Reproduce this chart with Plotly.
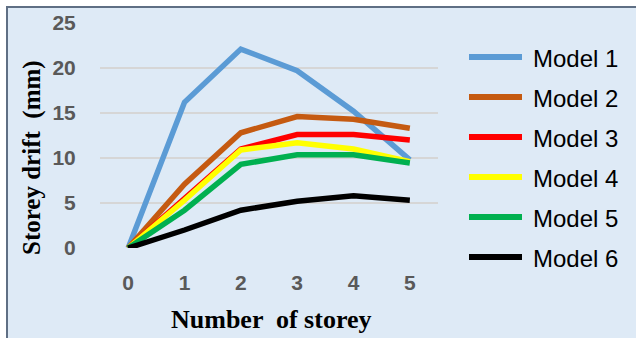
import plotly.graph_objects as go

# Storey drift per model
storeys = [0, 1, 2, 3, 4, 5]
model_1 = [0, 16.2, 22.1, 19.7, 15.2, 9.8]
model_2 = [0, 7.1, 12.8, 14.6, 14.3, 13.3]
model_3 = [0, 5.5, 11.0, 12.6, 12.6, 12.0]
model_4 = [0, 5.3, 10.9, 11.7, 11.0, 9.6]
model_5 = [0, 4.2, 9.3, 10.35, 10.35, 9.45]
model_6 = [0, 2.0, 4.2, 5.2, 5.8, 5.3]

names = ["Model 1", "Model 2", "Model 3", "Model 4", "Model 5", "Model 6"]
series = [model_1, model_2, model_3, model_4, model_5, model_6]
colors = ["#5B9BD5", "#C55A11", "#FF0000", "#FFFF00", "#00B050", "#000000"]
y_ticks = [0, 5, 10, 15, 20, 25]

W, H = 637, 338
L, R, T, B = 100, 199, 23, 90
PW, PH = W - L - R, H - T - B


def px_x(px):
    return (px - L) / PW


def px_y(py):
    return (H - B - py) / PH


fig = go.Figure()
for name, vals, col in zip(names, series, colors):
    fig.add_trace(go.Scatter(
        x=storeys, y=vals, mode="lines", name=name,
        line=dict(color=col, width=5.5), showlegend=False,
    ))

shapes = [
    # panel background and its frame
    dict(type="rect", xref="paper", yref="paper", layer="below",
         x0=px_x(7), x1=px_x(636), y0=px_y(345), y1=px_y(7),
         fillcolor="#DEEAF6", line=dict(width=0)),
    dict(type="line", xref="paper", yref="paper", layer="below",
         x0=px_x(7), x1=px_x(7), y0=px_y(345), y1=px_y(6),
         line=dict(color="#5F6F84", width=2)),
    dict(type="line", xref="paper", yref="paper", layer="below",
         x0=px_x(6), x1=px_x(636), y0=px_y(7), y1=px_y(7),
         line=dict(color="#5F6F84", width=2)),
]

annotations = [
    dict(text="<b>Storey drift  (mm)</b>", xref="paper", yref="paper",
         x=px_x(32), y=px_y(158), textangle=-90, showarrow=False,
         xanchor="center", yanchor="middle",
         font=dict(family="Liberation Serif", size=25, color="#000000")),
    dict(text="<b>Number  of storey</b>", xref="paper", yref="paper",
         x=px_x(271), y=px_y(319), showarrow=False,
         xanchor="center", yanchor="middle",
         font=dict(family="Liberation Serif", size=26, color="#000000")),
]

# legend: line sample + label per series
for i, (name, col) in enumerate(zip(names, colors)):
    cy = 57 + 40 * i
    shapes.append(dict(type="line", xref="paper", yref="paper",
                       x0=px_x(469), x1=px_x(522), y0=px_y(cy), y1=px_y(cy),
                       line=dict(color=col, width=6)))
    annotations.append(dict(text=name, xref="paper", yref="paper",
                            x=px_x(531), y=px_y(cy + 1), showarrow=False,
                            xanchor="left", yanchor="middle",
                            font=dict(family="Liberation Sans", size=24,
                                      color="#000000")))

tick_font = dict(family="Liberation Sans", size=21, color="#595959",
                 weight="bold")

fig.update_layout(
    width=W, height=H,
    margin=dict(l=L, r=R, t=T, b=B),
    paper_bgcolor="#FFFFFF",
    plot_bgcolor="rgba(0,0,0,0)",
    shapes=shapes,
    annotations=annotations,
    xaxis=dict(
        range=[-0.5, 5.5], tickvals=storeys, ticktext=[str(s) for s in storeys],
        showgrid=False, zeroline=False, showline=False,
        ticks="outside", ticklen=16, tickcolor="rgba(0,0,0,0)",
        tickfont=tick_font,
    ),
    yaxis=dict(
        range=[0, 25], tickvals=y_ticks,
        showgrid=True, gridcolor="#D6D6D6", gridwidth=2,
        zeroline=False, showline=False,
        ticks="outside", ticklen=19, tickcolor="rgba(0,0,0,0)",
        tickfont=tick_font,
    ),
)

fig.write_html("out.html")
